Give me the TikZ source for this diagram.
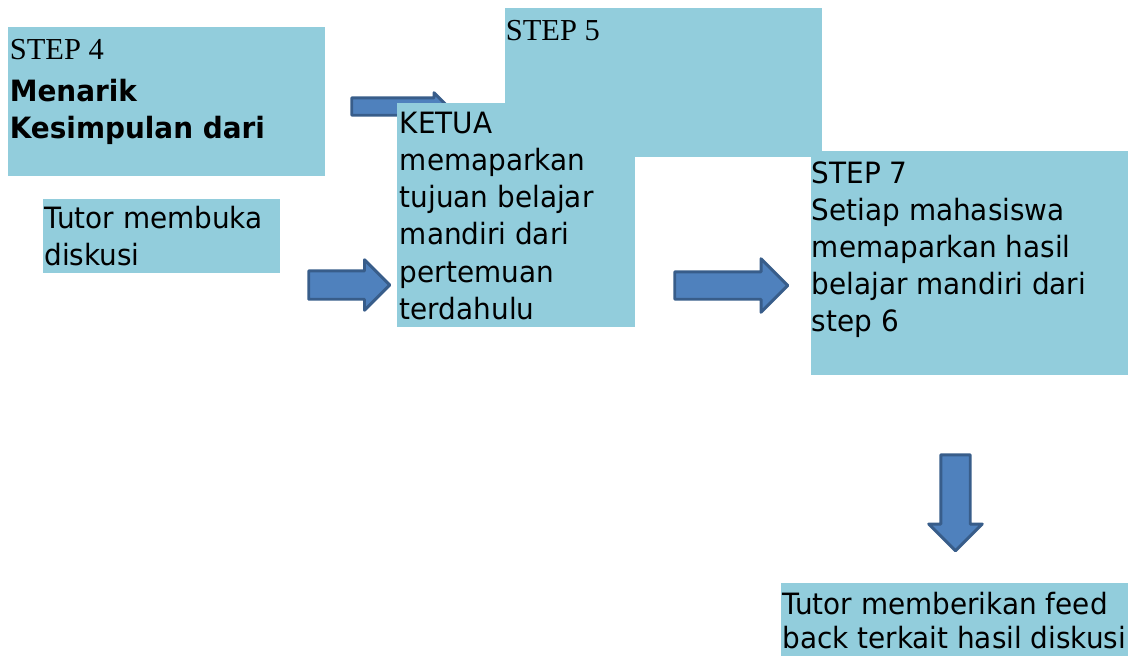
\documentclass[tikz,border=0pt]{standalone}
\usepackage{fontspec}
\setmainfont{Liberation Serif}
\setsansfont{DejaVu Sans}[FakeStretch=0.95]
\usepackage{tikz}
\usetikzlibrary{shapes.arrows}
\definecolor{boxblue}{HTML}{92CDDC}
\definecolor{arrfill}{HTML}{4F81BD}
\definecolor{arredge}{HTML}{385D8A}

\begin{document}
\begin{tikzpicture}[
  font=\sffamily\fontsize{16.7}{21.1}\selectfont,
  panel/.style={fill=boxblue, anchor=north west, inner sep=0pt},
  txt/.style={anchor=north west, align=left, inner sep=0pt},
  steptag/.style={font=\rmfamily\fontsize{17.35}{21}\selectfont},
  blockarr/.style={single arrow, draw=arredge, fill=arrfill, line width=1.7pt,
                   line join=round, single arrow head indent=0pt,
                   inner xsep=0pt, minimum width=0pt, anchor=tail}
]
\useasboundingbox (0,0) rectangle (22.6,-13.12);

% ---- Top row boxes ----
\node[panel, minimum width=6.34cm, minimum height=2.98cm] (step5) at (10.10,-0.16) {};
\node[txt, steptag] (step5txt) at (10.11,-0.39) {STEP 5};

\node[panel, minimum width=6.34cm, minimum height=2.98cm] (step4) at (0.16,-0.54) {};
\node[txt] (step4txt) at (0.19,-0.77)
  {{\rmfamily\fontsize{17.35}{21}\selectfont STEP 4}\\[3pt]
   \textbf{Menarik}\\ \textbf{Kesimpulan dari}};

% small arrow, partly under KETUA
\node[blockarr, minimum height=1.92cm, inner ysep=0.145cm,
      single arrow head extend=0.1cm] (topArr) at (7.005,-2.13) {};

% ---- Middle row ----
\node[panel, minimum width=4.76cm, minimum height=4.48cm] (ketua) at (7.94,-2.06) {};
\node[txt] (ketuatxt) at (7.99,-2.24)
  {KETUA\\ memaparkan\\ tujuan belajar\\ mandiri dari\\ pertemuan\\ terdahulu};

\node[panel, minimum width=6.34cm, minimum height=4.48cm] (step7) at (16.22,-3.02) {};
\node[txt] (step7txt) at (16.23,-3.22)
  {STEP 7\\ Setiap mahasiswa\\ memaparkan hasil\\ belajar mandiri dari\\ step 6};

\node[panel, minimum width=4.74cm, minimum height=1.48cm] (open) at (0.86,-3.98) {};
\node[txt] (opentxt) at (0.88,-4.12) {Tutor membuka\\ diskusi};

% ---- Block arrows ----
\node[blockarr, minimum height=1.62cm, inner ysep=0.255cm,
      single arrow head extend=0.22cm] (arrA) at (6.145,-5.70) {};
\node[blockarr, minimum height=2.26cm, inner ysep=0.245cm,
      single arrow head extend=0.26cm] (arrB) at (13.465,-5.71) {};
\node[blockarr, rotate=-90, minimum height=1.92cm, inner ysep=0.265cm,
      single arrow head extend=0.24cm] (arrC) at (19.11,-9.065) {};

% ---- Feedback box ----
\node[panel, minimum width=6.94cm, minimum height=1.46cm] (feedback) at (15.62,-11.66) {};
\node[txt, font=\sffamily\fontsize{16.7}{19.3}\selectfont] (feedbacktxt) at (15.64,-11.84)
  {Tutor memberikan feed\\ back terkait hasil diskusi};

\end{tikzpicture}
\end{document}
